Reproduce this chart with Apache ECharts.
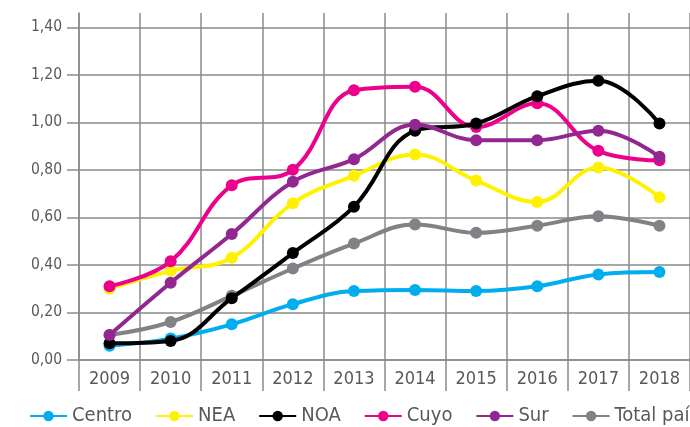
<!DOCTYPE html>
<html>
<head>
<meta charset="utf-8">
<script src="https://cdn.jsdelivr.net/npm/echarts@6/dist/echarts.min.js"></script>
<style>
  html, body { margin: 0; padding: 0; background: #fff; }
  #chart { width: 690px; height: 427px; }
</style>
</head>
<body>
<div id="chart"></div>
<script>
// años
var years = ['2009', '2010', '2011', '2012', '2013', '2014', '2015', '2016', '2017', '2018'];
// marcas del eje y
var yTicks = [0, 0.2, 0.4, 0.6, 0.8, 1.0, 1.2, 1.4];

// valores por región
var centro = [0.06, 0.09, 0.15, 0.235, 0.29, 0.295, 0.29, 0.31, 0.36, 0.37];
var nea = [0.30, 0.375, 0.43, 0.66, 0.775, 0.865, 0.755, 0.665, 0.81, 0.685];
var noa = [0.07, 0.08, 0.26, 0.45, 0.645, 0.965, 0.995, 1.11, 1.175, 0.995];
var cuyo = [0.31, 0.415, 0.735, 0.80, 1.135, 1.15, 0.98, 1.08, 0.88, 0.84];
var sur = [0.105, 0.325, 0.53, 0.75, 0.845, 0.99, 0.925, 0.925, 0.965, 0.855];
var total = [0.105, 0.16, 0.27, 0.385, 0.49, 0.57, 0.535, 0.565, 0.605, 0.565];

var gridColor = '#8a8a8a';
var textColor = '#58595b';
var font = '"DejaVu Sans Condensed", "Liberation Sans", sans-serif';

function linea(name, data, color, z) {
  return {
    name: name,
    type: 'line',
    data: data,
    smooth: 0.4,
    symbol: 'circle',
    symbolSize: 12,
    z: z,
    lineStyle: { width: 4, color: color },
    itemStyle: { color: color }
  };
}

var chart = echarts.init(document.getElementById('chart'));
chart.setOption({
  animation: false,
  backgroundColor: '#fff',
  textStyle: { fontFamily: font },
  grid: { left: 79, right: -12, top: 13, bottom: 67, containLabel: false },
  legend: {
    left: 24,
    top: 401,
    width: 900,
    itemWidth: 37,
    itemHeight: 13,
    itemGap: 23,
    textStyle: { fontSize: 20, color: textColor, fontFamily: font },
    data: ['Centro', 'NEA', 'NOA', 'Cuyo', 'Sur', 'Total país']
  },
  xAxis: {
    type: 'category',
    data: years,
    boundaryGap: true,
    axisLine: { lineStyle: { color: gridColor, width: 1.5 } },
    axisTick: { show: true, length: 31, interval: 0, lineStyle: { color: gridColor, width: 1.5 } },
    splitLine: { show: true, interval: 0, lineStyle: { color: gridColor, width: 1.5 } },
    axisLabel: { fontSize: 18, color: textColor, margin: 10, fontFamily: font, interval: 0 }
  },
  yAxis: {
    type: 'value',
    min: 0,
    max: 1.46,
    interval: 0.2,
    axisLine: { show: true, lineStyle: { color: gridColor, width: 1.5 } },
    axisTick: { show: true, length: 12, customValues: yTicks, lineStyle: { color: gridColor, width: 1.5 } },
    splitLine: { show: true, lineStyle: { color: gridColor, width: 1.5 } },
    axisLabel: {
      customValues: yTicks,
      fontSize: 15.5,
      color: textColor,
      margin: 17,
      fontFamily: font,
      formatter: function (v) { return v.toFixed(2).replace('.', ','); }
    }
  },
  series: [
    linea('Centro', centro, '#00aeef', 3),
    linea('NEA', nea, '#fff200', 4),
    linea('NOA', noa, '#000000', 6),
    linea('Cuyo', cuyo, '#ec008c', 5),
    linea('Sur', sur, '#92278f', 7),
    linea('Total país', total, '#808285', 2)
  ]
});
</script>
</body>
</html>
